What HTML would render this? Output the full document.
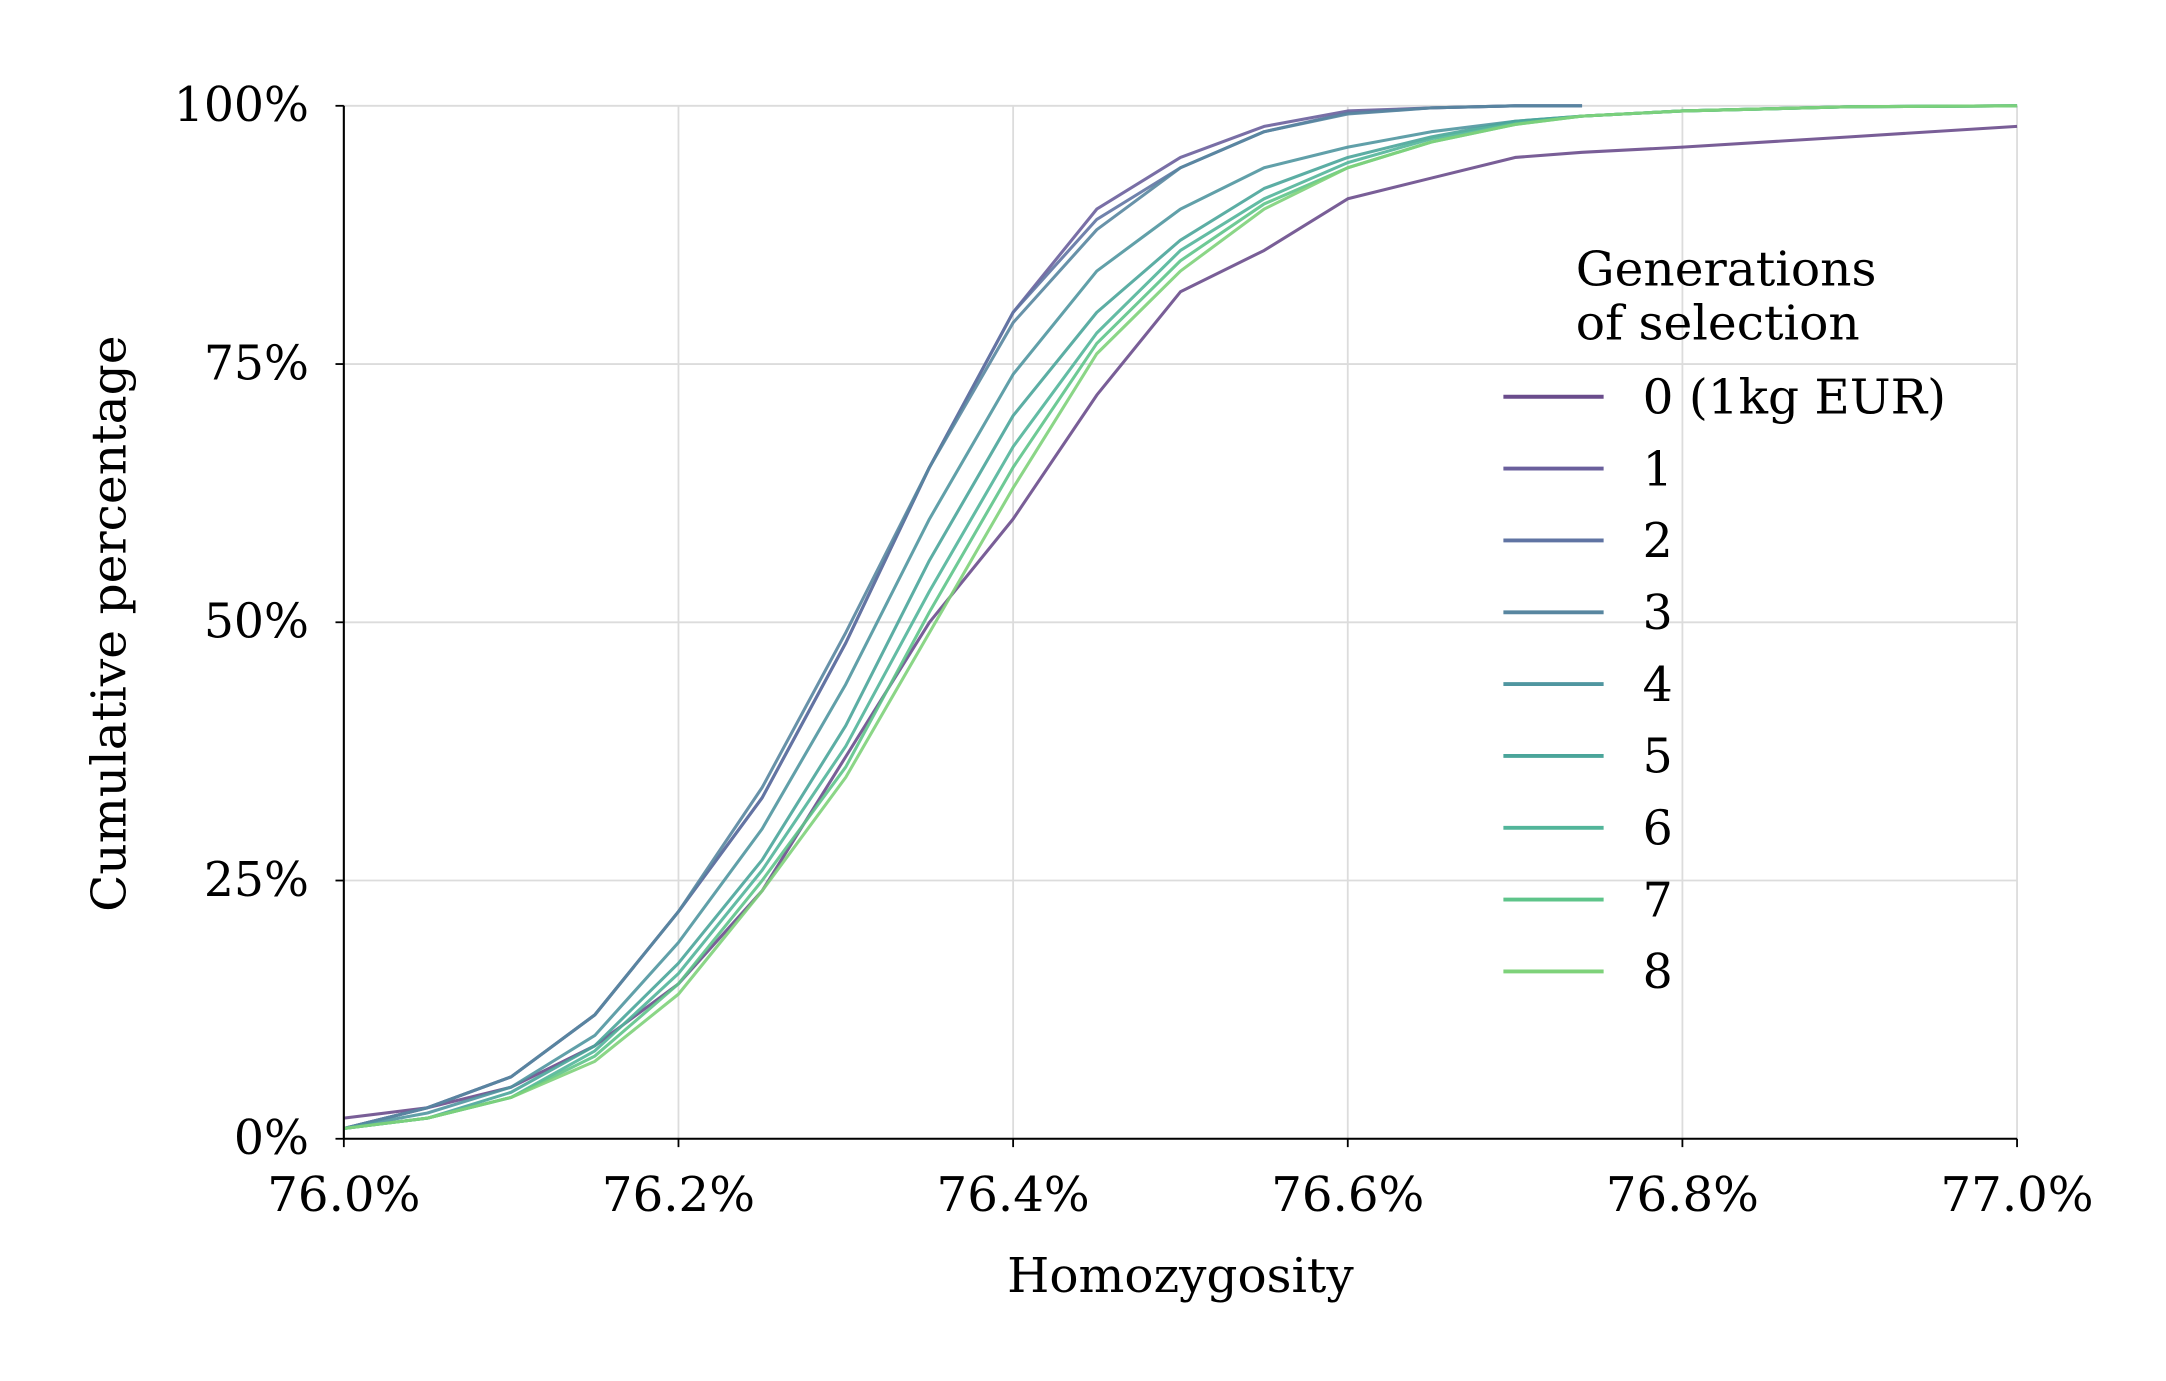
<!DOCTYPE html>
<html><head><meta charset="utf-8">
<style>
html,body{margin:0;padding:0;background:#fff;}
svg{display:block;font-family:"DejaVu Serif","Liberation Serif",serif;}
</style></head>
<body>
<svg id="chart" width="2166" height="1381" viewBox="0 0 1556 992" preserveAspectRatio="none" xmlns="http://www.w3.org/2000/svg">
<g id="grid"></g>
<g id="series"></g>
<g id="axes"></g>
<text x="848" y="928" font-size="34" text-anchor="middle" textLength="249" lengthAdjust="spacingAndGlyphs">Homozygosity</text>
<text transform="translate(90,448) rotate(-90)" font-size="34" text-anchor="middle" textLength="414" lengthAdjust="spacingAndGlyphs">Cumulative percentage</text>
<g id="legend">
<text x="1132" y="205" font-size="34" textLength="216" lengthAdjust="spacingAndGlyphs">Generations</text>
<text x="1132" y="244" font-size="34" textLength="204" lengthAdjust="spacingAndGlyphs">of selection</text>
</g>
</svg>
<script>
const xTicks=[76.0,76.2,76.4,76.6,76.8,77.0];
const xTickLabels=["76.0%","76.2%","76.4%","76.6%","76.8%","77.0%"];
const yTicks=[0,25,50,75,100];
const yTickLabels=["0%","25%","50%","75%","100%"];
const seriesNames=["0 (1kg EUR)","1","2","3","4","5","6","7","8"];
const seriesColors=["#6a4c8c","#6a5f9c","#6074a3","#5886a0","#5096a0","#4aa59a","#52b59a","#5ec48a","#7ed27a"];
const xs=[76.0,76.05,76.1,76.15,76.2,76.25,76.3,76.35,76.4,76.45,76.5,76.55,76.6,76.65,76.7,76.74,76.8,76.9,77.0];
const s0=[2,3,5,9,15,24,37,50,60,72,82,86,91,93,95,95.5,96,97,98];
const s1=[1,3,6,12,22,33,48,65,80,90,95,98,99.5,99.8,100,100,null,null,null];
const s2=[1,3,6,12,22,33,48,65,80,89,94,97.5,99.3,99.8,100,100,null,null,null];
const s3=[1,3,6,12,22,34,49,65,79,88,94,97.5,99.2,99.8,100,100,null,null,null];
const s4=[1,2.5,5,10,19,30,44,60,74,84,90,94,96,97.5,98.5,99,99.5,99.9,100];
const s5=[1,2,4.5,9,17,27,40,56,70,80,87,92,95,97,98.5,99,99.5,99.9,100];
const s6=[1,2,4,8.5,16,26,38,53,67,78,86,91,94.5,96.8,98.3,99,99.5,99.9,100];
const s7=[1,2,4,8,15,25,36,51,65,77,85,90.5,94,96.5,98.2,99,99.5,99.9,100];
const s8=[1,2,4,7.5,14,24,35,49,63,76,84,90,94,96.5,98.2,99,99.5,99.9,100];
const allSeries=[s0,s1,s2,s3,s4,s5,s6,s7,s8];

const L=247,R=1449,T=76,B=818;
const sx=v=>L+(v-76.0)/(77.0-76.0)*(R-L);
const sy=v=>B-(v/100)*(B-T);
const NS="http://www.w3.org/2000/svg";
function mk(tag,attrs,parent){const e=document.createElementNS(NS,tag);for(const k in attrs)e.setAttribute(k,attrs[k]);parent.appendChild(e);return e;}
const grid=document.getElementById('grid'),axes=document.getElementById('axes'),ser=document.getElementById('series'),leg=document.getElementById('legend');
xTicks.forEach((t,i)=>{
 const g=mk('line',{x1:sx(t),x2:sx(t),y1:T,y2:B,stroke:'#dcdcdc','stroke-width':1.3},grid);
 
 
 const tk=mk('line',{x1:sx(t),x2:sx(t),y1:B,y2:B+6,stroke:'#000','stroke-width':1.3},axes);
 
 
 const tx=mk('text',{x:sx(t),y:B+52,'font-size':34,'text-anchor':'middle',textLength:110,lengthAdjust:'spacingAndGlyphs'},axes);
 tx.textContent=xTickLabels[i];
 
 
});
yTicks.forEach((t,i)=>{
 const g=mk('line',{x1:L,x2:R,y1:sy(t),y2:sy(t),stroke:'#dcdcdc','stroke-width':1.3},grid);
 
 
 const tk=mk('line',{x1:L-6,x2:L,y1:sy(t),y2:sy(t),stroke:'#000','stroke-width':1.3},axes);
 
 
 const tx=mk('text',{x:L-25,y:sy(t)+11,'font-size':34,'text-anchor':'end'},axes);
 tx.textContent=yTickLabels[i];
 
 
});
const ax1=mk('line',{x1:L,x2:L,y1:T,y2:B,stroke:'#000','stroke-width':1.5},axes);


const ax2=mk('line',{x1:L,x2:R,y1:B,y2:B,stroke:'#000','stroke-width':1.5},axes);


allSeries.forEach((s,i)=>{
 const pts=[];s.forEach((v,j)=>{if(v!==null)pts.push(sx(xs[j]).toFixed(1)+','+sy(v).toFixed(1));});
 const p=mk('polyline',{points:pts.join(' '),fill:'none',stroke:seriesColors[i],'stroke-width':2.2,'stroke-opacity':0.9,'stroke-linejoin':'round'},ser);
 
 
 const y=285+i*51.6;
 const ll=mk('line',{x1:1080,x2:1152,y1:y,y2:y,stroke:seriesColors[i],'stroke-width':2.8},leg);
 
 
 const lt=mk('text',{x:1180,y:y+12,'font-size':34},leg);
 lt.textContent=seriesNames[i];
 if(i===0){lt.setAttribute('textLength','218');lt.setAttribute('lengthAdjust','spacingAndGlyphs');}
 
 
});
</script>
</body></html>
